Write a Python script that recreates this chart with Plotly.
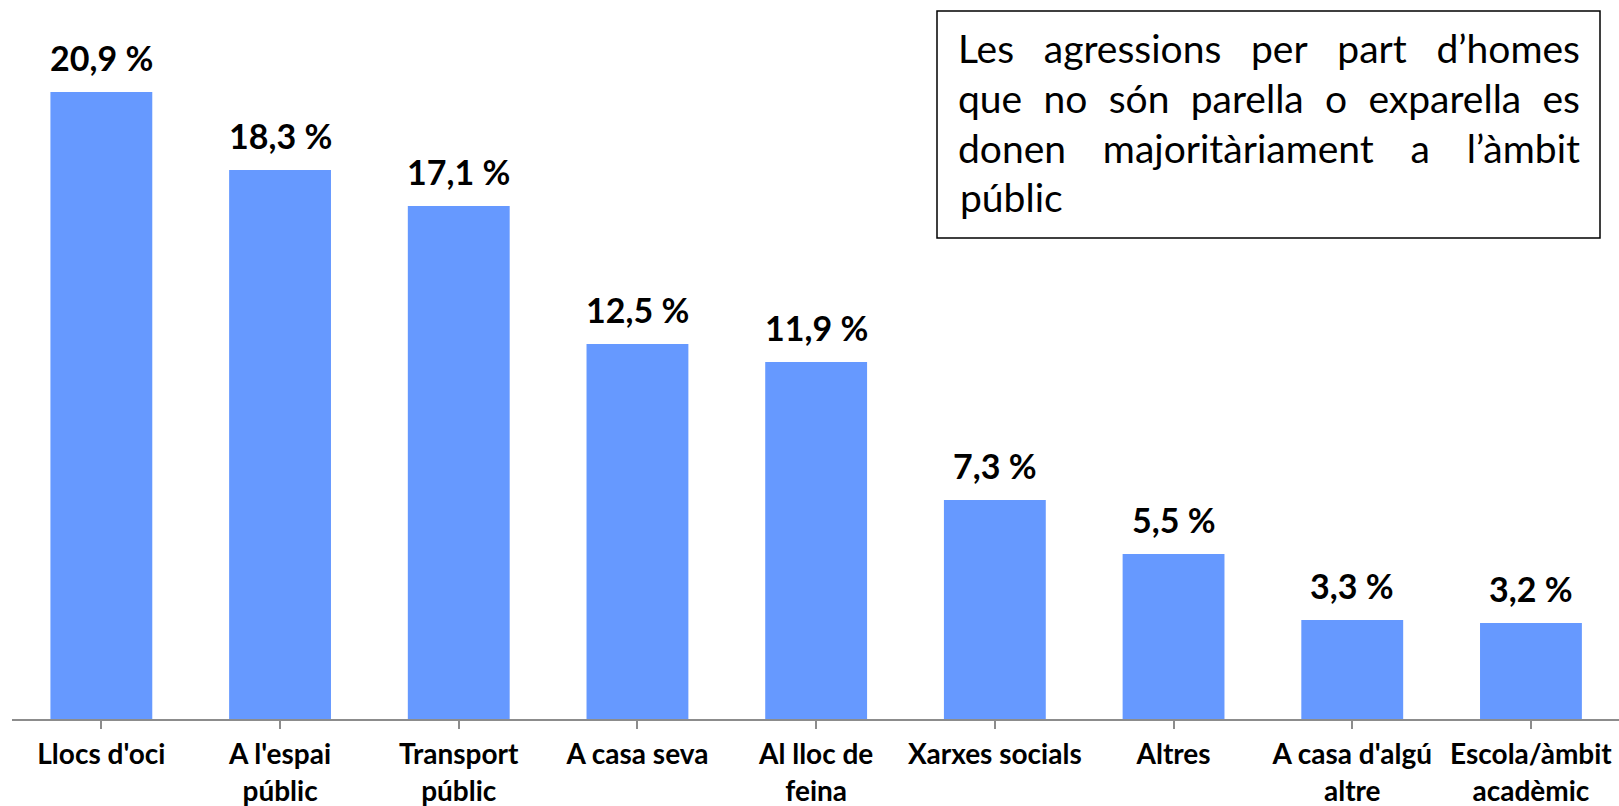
import json
import plotly.graph_objects as go

categories = ["Llocs d'oci", "A l'espai<br>públic", "Transport<br>públic", "A casa seva",
              "Al lloc de<br>feina", "Xarxes socials", "Altres", "A casa d'algú<br>altre",
              "Escola/àmbit<br>acadèmic"]
values = [20.9, 18.3, 17.1, 12.5, 11.9, 7.3, 5.5, 3.3, 3.2]
value_labels = [f"{v:.1f}".replace(".", ",") + " %" for v in values]

box_lines = [
    ["Les", "agressions", "per", "part", "d’homes"],
    ["que", "no", "són", "parella", "o", "exparella", "es"],
    ["donen", "majoritàriament", "a", "l’àmbit"],
    ["públic"],
]
justified = [True, True, True, False]
line_y_px = [48, 98, 147.5, 197]

W, H = 1619, 806
L, R, T, B = 12, 0, 0, 87
pw, ph = W - L - R, H - T - B
cat_px = 178.7

fig = go.Figure()
fig.add_trace(go.Bar(x=list(range(len(categories))), y=values,
                     marker=dict(color="#6699FF", line=dict(width=0)),
                     hoverinfo="skip"))

FONT = "Lato, 'Open Sans', sans-serif"
annotations = []
for i, (v, lab) in enumerate(zip(values, value_labels)):
    annotations.append(dict(x=i, y=v, xref="x", yref="y", text=f"<b>{lab}</b>",
                            showarrow=False, yanchor="middle", yshift=35,
                            font=dict(family=FONT, size=34, color="black")))

def px2paper_x(px):
    return (px - L) / pw

def px2paper_y(py):
    return 1 - (py - T) / ph

left_px, right_px = 958, 1580
line_indices = []
for words, ypx in zip(box_lines, line_y_px):
    idx = []
    for wd in words:
        idx.append(len(annotations))
        annotations.append(dict(x=px2paper_x(left_px), y=px2paper_y(ypx), xref="paper", yref="paper",
                                text=wd, showarrow=False, xanchor="left", yanchor="middle",
                                font=dict(family=FONT, size=39, color="black")))
    line_indices.append(idx)

shapes = [dict(type="rect", xref="paper", yref="paper",
               x0=px2paper_x(937), x1=px2paper_x(1600),
               y0=px2paper_y(238), y1=px2paper_y(11),
               line=dict(color="black", width=1.5), fillcolor="white", layer="below")]

span = pw / cat_px
fig.update_layout(
    width=W, height=H,
    margin=dict(l=L, r=R, t=T, b=B, pad=0),
    paper_bgcolor="white", plot_bgcolor="white",
    showlegend=False, bargap=0.43,
    annotations=annotations, shapes=shapes,
    xaxis=dict(tickmode="array", tickvals=list(range(len(categories))), ticktext=categories,
               range=[-0.5, -0.5 + span], tickson="boundaries", ticks="outside",
               ticklen=8, tickwidth=1.5, tickcolor="#8c8c8c",
               showline=True, linecolor="#8c8c8c", linewidth=1.5,
               showgrid=False, zeroline=False, fixedrange=True,
               tickfont=dict(family=FONT, size=28, color="black", weight="bold"),
               ticklabelstandoff=2),
    yaxis=dict(range=[0, ph / 30.0], visible=False, showgrid=False, zeroline=False),
    font=dict(family=FONT),
)

# justify the words of the text box (full justification like the reference)
js_lines = json.dumps([ids for ids, j in zip(line_indices, justified) if j])
post = """
document.body.style.margin='0';document.body.style.overflow='hidden';
(function(){
  var lines = %s, left = %f, right = %f;
  lines.forEach(function(ids){
    var els = ids.map(function(i){return document.querySelector('g.annotation[data-index="'+i+'"]');});
    if (els.some(function(e){return !e;})) return;
    var ws = els.map(function(e){var t=e.querySelector('text');return t.getBoundingClientRect();});
    var tot = ws.reduce(function(a,r){return a+r.width;},0);
    var gap = (right-left-tot)/(ids.length-1);
    var x = left;
    els.forEach(function(e,k){
      var dx = x - ws[k].left;
      e.setAttribute('transform','translate('+dx+',0)');
      x += ws[k].width + gap;
    });
  });
})();
""" % (js_lines, left_px, right_px)

fig.write_html("out.html", config={"displayModeBar": False}, post_script=post)
